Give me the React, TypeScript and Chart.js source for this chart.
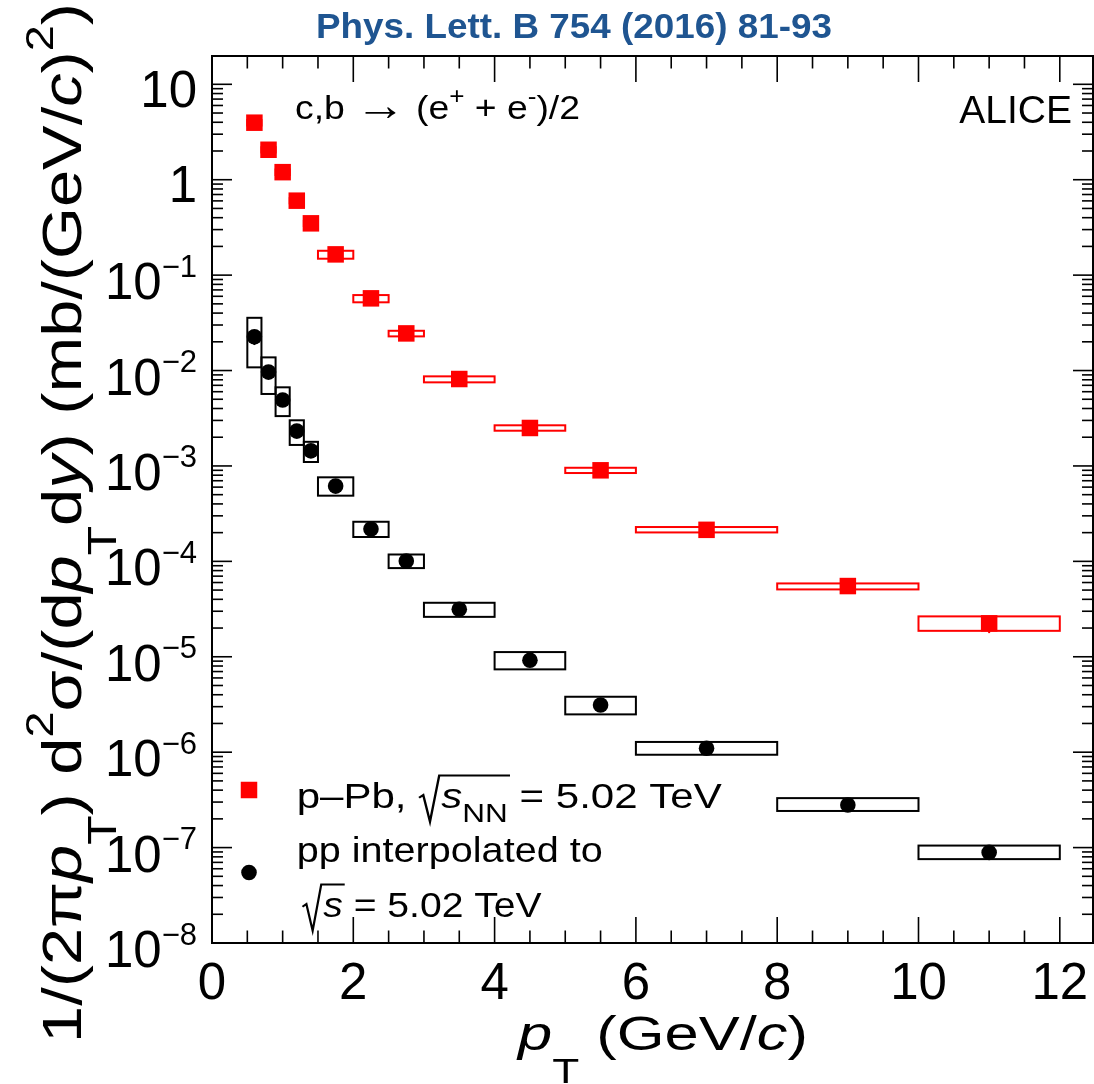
import { useEffect, useRef } from 'react';
import { Chart, registerables } from 'chart.js';

Chart.register(...registerables);

const FONT = '"Liberation Sans", Arial, Helvetica, sans-serif';

// pT bins (GeV/c)
const ptCenters = [0.6, 0.8, 1.0, 1.2, 1.4, 1.75, 2.25, 2.75, 3.5, 4.5, 5.5, 7, 9, 11];
const binLow = [0.5, 0.7, 0.9, 1.1, 1.3, 1.5, 2.0, 2.5, 3, 4, 5, 6, 8, 10];
const binHigh = [0.7, 0.9, 1.1, 1.3, 1.5, 2.0, 2.5, 3.0, 4, 5, 6, 8, 10, 12];

// p-Pb, sqrt(sNN) = 5.02 TeV
const pPbValues = [3.96, 2.06, 1.2, 0.603, 0.349, 0.165, 0.0571, 0.0245, 0.00815, 0.0025, 9.0e-4, 2.14e-4, 5.51e-5, 2.24e-5];
const pPbSysLow = [3.7, 1.93, 1.12, 0.565, 0.327, 0.1486, 0.0519, 0.0228, 0.00752, 0.00234, 8.43e-4, 2.01e-4, 5.08e-5, 1.87e-5];
const pPbSysHigh = [4.22, 2.19, 1.28, 0.641, 0.371, 0.18, 0.0618, 0.0261, 0.00869, 0.002667, 9.57e-4, 2.29e-4, 5.87e-5, 2.65e-5];
const pPbStatLow = [null, null, null, null, null, null, null, null, null, null, null, null, null, 1.77e-5];

// pp reference interpolated to sqrt(s) = 5.02 TeV
const ppValues = [0.0226, 0.00963, 0.00491, 0.00232, 0.00144, 6.15e-4, 2.18e-4, 1.007e-4, 3.14e-5, 9.2e-6, 3.12e-6, 1.1e-6, 2.79e-7, 8.9e-8];
const ppSysLow = [0.0108, 0.00568, 0.00333, 0.00166, 0.0011, 4.88e-4, 1.8e-4, 8.5e-5, 2.62e-5, 7.38e-6, 2.49e-6, 9.4e-7, 2.42e-7, 7.57e-8];
const ppSysHigh = [0.0357, 0.01374, 0.00667, 0.00301, 0.00179, 7.6e-4, 2.6e-4, 1.18e-4, 3.68e-5, 1.12e-5, 3.81e-6, 1.28e-6, 3.3e-7, 1.05e-7];
const ppStatLow = [0.0185, null, null, null, null, null, null, null, null, null, null, null, null, null];

// axis ranges and tick labels
const X_MIN = 0;
const X_MAX = 12.47;
const Y_MIN = 1e-8;
const Y_MAX = 19.8;
const xTickLabels = [0, 2, 4, 6, 8, 10, 12];
const yDecades = [1, 0, -1, -2, -3, -4, -5, -6, -7, -8];

const RED = '#ff0000';

type Seg = {
  t?: string;
  it?: boolean;
  bold?: boolean;
  sup?: boolean;
  sub?: boolean;
  dy?: number;
  sc?: number;
  rad?: 'open' | 'close';
};

function segFont(s: Seg, size: number) {
  let fs = size * (s.sc ?? 1);
  if (s.sup) fs = size * (s.sc ?? 0.7);
  if (s.sub) fs = size * (s.sc ?? 0.72);
  return { fs, font: `${s.it ? 'italic ' : ''}${s.bold ? 'bold ' : ''}${fs}px ${FONT}` };
}

function richWidth(ctx: CanvasRenderingContext2D, segs: Seg[], size: number) {
  let w = 0;
  for (const s of segs) {
    if (s.rad === 'open') { w += size * 0.55; continue; }
    if (s.rad === 'close') continue;
    ctx.font = segFont(s, size).font;
    w += ctx.measureText(s.t || '').width;
  }
  return w;
}

function drawRich(
  ctx: CanvasRenderingContext2D,
  segs: Seg[],
  x: number,
  y: number,
  size: number,
  targetWidth?: number,
) {
  const w = richWidth(ctx, segs, size);
  const sx = targetWidth ? targetWidth / w : 1;
  ctx.save();
  ctx.translate(x, y);
  ctx.scale(sx, 1);
  ctx.textAlign = 'left';
  ctx.textBaseline = 'alphabetic';
  let cx = 0;
  let radX = 0;
  for (const s of segs) {
    if (s.rad === 'open') { radX = cx; cx += size * 0.55; continue; }
    if (s.rad === 'close') {
      const top = -0.94 * size;
      ctx.beginPath();
      ctx.lineWidth = 2;
      ctx.moveTo(radX + 0.02 * size, -0.3 * size);
      ctx.lineTo(radX + 0.12 * size, -0.38 * size);
      ctx.lineTo(radX + 0.28 * size, 0.38 * size);
      ctx.lineTo(radX + 0.5 * size, top);
      ctx.lineTo(cx + 0.05 * size, top);
      ctx.stroke();
      continue;
    }
    const { font } = segFont(s, size);
    ctx.font = font;
    let dy = 0;
    if (s.sup) dy = -(s.dy ?? 0.45) * size;
    else if (s.sub) dy = (s.dy ?? 0.3) * size;
    else if (s.dy) dy = s.dy * size;
    ctx.fillText(s.t || '', cx, dy);
    cx += ctx.measureText(s.t || '').width;
  }
  ctx.restore();
}

function line(ctx: CanvasRenderingContext2D, x0: number, y0: number, x1: number, y1: number) {
  ctx.beginPath();
  ctx.moveTo(x0, y0);
  ctx.lineTo(x1, y1);
  ctx.stroke();
}

// systematic-uncertainty boxes and statistical bars, under the markers
const uncertaintyPlugin = {
  id: 'uncertainties',
  beforeDatasetsDraw(chart: any) {
    const { ctx, scales } = chart;
    const xs = scales.x;
    const ys = scales.y;
    const drawBoxes = (lo: number[], hi: number[], color: string) => {
      ctx.save();
      ctx.strokeStyle = color;
      ctx.lineWidth = 2;
      for (let i = 0; i < ptCenters.length; i++) {
        const x0 = xs.getPixelForValue(binLow[i]);
        const x1 = xs.getPixelForValue(binHigh[i]);
        const y0 = ys.getPixelForValue(hi[i]);
        const y1 = ys.getPixelForValue(lo[i]);
        ctx.strokeRect(x0, y0, x1 - x0, y1 - y0);
      }
      ctx.restore();
    };
    const drawStat = (vals: number[], lows: (number | null)[], color: string) => {
      ctx.save();
      ctx.strokeStyle = color;
      ctx.lineWidth = 2;
      for (let i = 0; i < ptCenters.length; i++) {
        const lo = lows[i];
        if (lo == null) continue;
        const px = xs.getPixelForValue(ptCenters[i]);
        line(ctx, px, ys.getPixelForValue(vals[i]), px, ys.getPixelForValue(lo));
      }
      ctx.restore();
    };
    drawBoxes(pPbSysLow, pPbSysHigh, RED);
    drawBoxes(ppSysLow, ppSysHigh, '#000');
    drawStat(pPbValues, pPbStatLow, RED);
    drawStat(ppValues, ppStatLow, '#000');
  },
};

// frame, inward ticks, labels and annotations
const framePlugin = {
  id: 'frame',
  afterDraw(chart: any) {
    const { ctx, chartArea: ca, scales } = chart;
    const xs = scales.x;
    const ys = scales.y;
    ctx.save();
    ctx.fillStyle = '#000';
    ctx.strokeStyle = '#000';

    // ticks
    ctx.lineWidth = 1.6;
    for (let k = 0; k * 0.5 <= X_MAX; k++) {
      const v = k * 0.5;
      const px = xs.getPixelForValue(v);
      const L = k % 4 === 0 ? 26 : 12.5;
      line(ctx, px, ca.bottom, px, ca.bottom - L);
      line(ctx, px, ca.top, px, ca.top + L);
    }
    for (let k = -8; k <= 1; k++) {
      for (let m = 1; m <= 9; m++) {
        const v = m * Math.pow(10, k);
        if (v > Y_MAX) break;
        const py = ys.getPixelForValue(v);
        const L = m === 1 ? 20 : 11;
        line(ctx, ca.left, py, ca.left + L, py);
        line(ctx, ca.right, py, ca.right - L, py);
      }
    }

    // frame
    ctx.lineWidth = 2;
    ctx.strokeRect(ca.left, ca.top, ca.right - ca.left, ca.bottom - ca.top);

    // x tick labels
    ctx.font = `51px ${FONT}`;
    ctx.textAlign = 'center';
    ctx.textBaseline = 'alphabetic';
    for (const v of xTickLabels) {
      ctx.fillText(String(v), xs.getPixelForValue(v), 999);
    }

    // y tick labels
    const rightEdge = 197;
    for (const k of yDecades) {
      const py = ys.getPixelForValue(Math.pow(10, k));
      ctx.textAlign = 'right';
      if (k === 1 || k === 0) {
        ctx.font = `51px ${FONT}`;
        ctx.fillText(k === 1 ? '10' : '1', rightEdge, py + 22.5);
      } else {
        ctx.font = `31px ${FONT}`;
        const exp = '\u2212' + String(-k);
        const ew = ctx.measureText(exp).width;
        ctx.fillText(exp, rightEdge, py + 1.5);
        ctx.font = `51px ${FONT}`;
        ctx.fillText('10', rightEdge - ew, py + 24);
      }
    }

    // x title
    drawRich(ctx, [
      { t: 'p', it: true },
      { t: 'T', sub: true, dy: 0.67 },
      { t: ' (GeV/' },
      { t: 'c', it: true },
      { t: ')' },
    ], 518, 1050, 49, 290);

    // y title
    ctx.save();
    ctx.translate(81, 1043);
    ctx.rotate(-Math.PI / 2);
    drawRich(ctx, [
      { t: '1/(2\u03c0' },
      { t: 'p', it: true },
      { t: 'T', sub: true, dy: 0.62 },
      { t: ') d' },
      { t: '2', sup: true, dy: 0.5 },
      { t: '\u03c3' },
      { t: '/(d' },
      { t: 'p', it: true },
      { t: 'T', sub: true, dy: 0.62 },
      { t: 'd' },
      { t: 'y', it: true },
      { t: ') (mb/(GeV/' },
      { t: 'c', it: true },
      { t: ')' },
      { t: '2', sup: true, dy: 0.5 },
      { t: ')' },
    ], 0, 0, 56, 1040);
    ctx.restore();

    // journal reference
    ctx.save();
    ctx.fillStyle = '#1f5591';
    ctx.font = `bold 35px ${FONT}`;
    const title = 'Phys. Lett. B 754 (2016) 81-93';
    const tw = ctx.measureText(title).width;
    ctx.translate(574, 38);
    ctx.scale(516 / tw, 1);
    ctx.textAlign = 'center';
    ctx.fillText(title, 0, 0);
    ctx.restore();

    // process label
    drawRich(ctx, [
      { t: 'c,b ' },
      { t: '\u2192', sc: 1.35, dy: 0.02 },
      { t: ' (e' },
      { t: '+', sup: true },
      { t: ' + e' },
      { t: '-', sup: true },
      { t: ')/2' },
    ], 295, 119, 33, 285);

    // experiment label
    ctx.font = `39px ${FONT}`;
    ctx.textAlign = 'right';
    ctx.fillText('ALICE', 1072, 123);

    // legend markers
    ctx.fillStyle = RED;
    ctx.fillRect(249 - 8.25, 790 - 8.25, 16.5, 16.5);
    ctx.fillStyle = '#000';
    ctx.beginPath();
    ctx.arc(249, 872.5, 7.8, 0, Math.PI * 2);
    ctx.fill();

    // legend text
    drawRich(ctx, [
      { t: 'p\u2013Pb, ' },
      { rad: 'open' },
      { t: 's', it: true },
      { t: 'NN', sub: true, dy: 0.38, sc: 0.75 },
      { rad: 'close' },
      { t: ' = 5.02 TeV' },
    ], 296.7, 808.3, 35, 425);
    drawRich(ctx, [{ t: 'pp interpolated to' }], 296.7, 861.7, 35, 306);
    drawRich(ctx, [
      { rad: 'open' },
      { t: 's', it: true },
      { rad: 'close' },
      { t: ' = 5.02 TeV' },
    ], 301.7, 917.3, 35, 240);

    ctx.restore();
  },
};

export default function App() {
  const ref = useRef<HTMLCanvasElement>(null);

  useEffect(() => {
    const canvas = ref.current;
    if (!canvas) return;
    const chart = new Chart(canvas, {
      type: 'scatter',
      data: {
        datasets: [
          {
            label: 'p-Pb',
            data: ptCenters.map((x, i) => ({ x, y: pPbValues[i] })),
            pointStyle: 'rect',
            pointRadius: 11.67,
            pointBackgroundColor: RED,
            pointBorderColor: RED,
            pointBorderWidth: 0,
            showLine: false,
          },
          {
            label: 'pp',
            data: ptCenters.map((x, i) => ({ x, y: ppValues[i] })),
            pointStyle: 'circle',
            pointRadius: 7.8,
            pointBackgroundColor: '#000',
            pointBorderColor: '#000',
            pointBorderWidth: 0,
            showLine: false,
          },
        ],
      },
      options: {
        responsive: false,
        animation: false,
        devicePixelRatio: 1,
        layout: { autoPadding: false, padding: { left: 212, top: 56, right: 1, bottom: 141 } },
        scales: {
          x: { type: 'linear', min: X_MIN, max: X_MAX, display: false },
          y: { type: 'logarithmic', min: Y_MIN, max: Y_MAX, display: false },
        },
        plugins: {
          legend: { display: false },
          tooltip: { enabled: false },
        },
      },
      plugins: [uncertaintyPlugin, framePlugin],
    });
    return () => chart.destroy();
  }, []);

  return (
    <div style={{ position: 'absolute', left: 0, top: 0, width: 1094, height: 1084, background: '#fff' }}>
      <canvas ref={ref} width={1094} height={1084} style={{ display: 'block', width: 1094, height: 1084 }} />
    </div>
  );
}
